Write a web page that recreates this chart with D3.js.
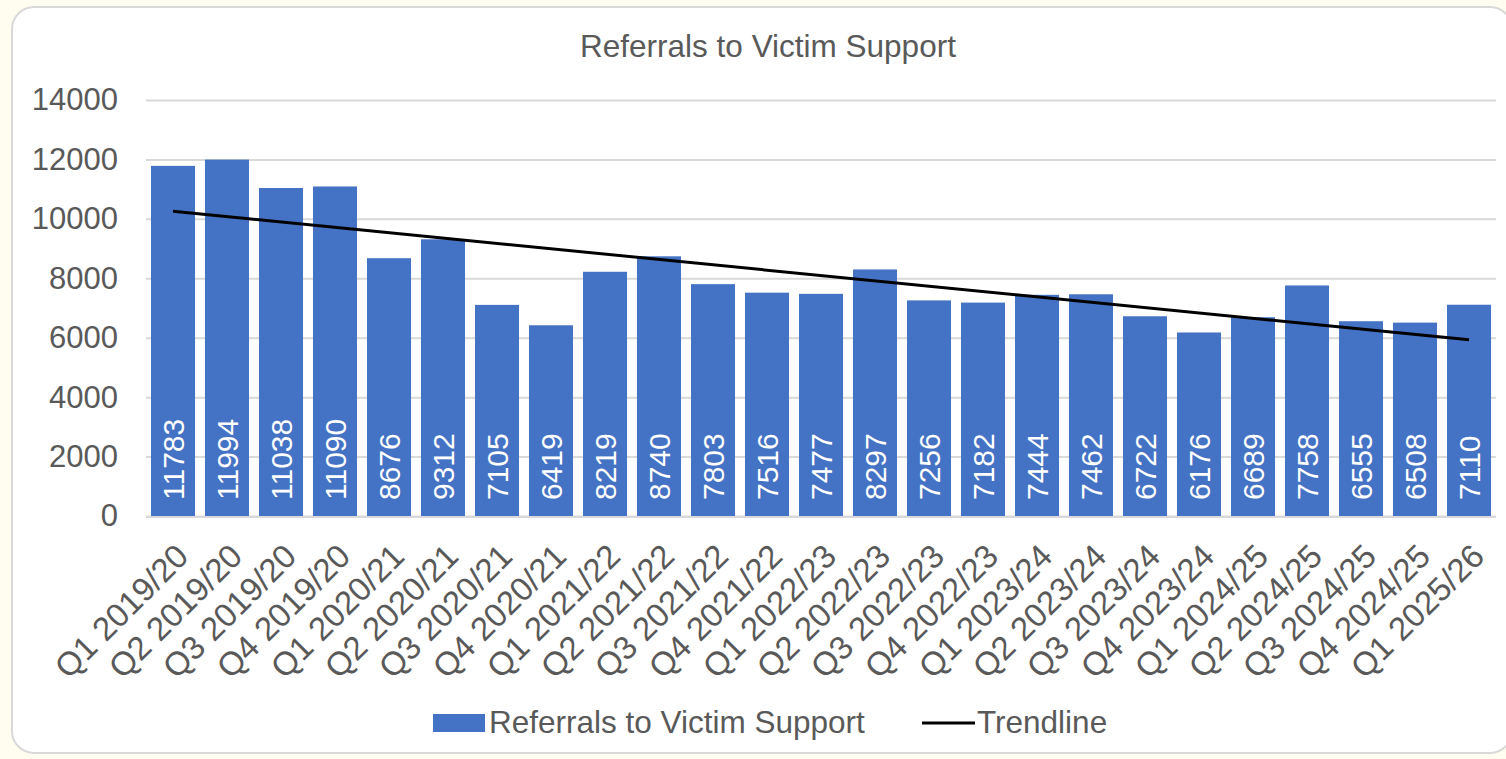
<!DOCTYPE html>
<html>
<head>
<meta charset="utf-8">
<script src="https://cdn.jsdelivr.net/npm/d3@7"></script>
<style>
    body { margin: 0; background: #fffdf0; }
    svg { display: block; font-family: "Liberation Sans", Arial, sans-serif; }
</style>
</head>
<body>
<script>
// quarters shown on the x axis
var quarters = [
    "Q1 2019/20", "Q2 2019/20", "Q3 2019/20", "Q4 2019/20",
    "Q1 2020/21", "Q2 2020/21", "Q3 2020/21", "Q4 2020/21",
    "Q1 2021/22", "Q2 2021/22", "Q3 2021/22", "Q4 2021/22",
    "Q1 2022/23", "Q2 2022/23", "Q3 2022/23", "Q4 2022/23",
    "Q1 2023/24", "Q2 2023/24", "Q3 2023/24", "Q4 2023/24",
    "Q1 2024/25", "Q2 2024/25", "Q3 2024/25", "Q4 2024/25",
    "Q1 2025/26"
];
var referrals = [
    11783, 11994, 11038, 11090, 8676, 9312, 7105, 6419, 8219, 8740,
    7803, 7516, 7477, 8297, 7256, 7182, 7444, 7462, 6722, 6176,
    6689, 7758, 6555, 6508, 7110
];
var yTicks = [0, 2000, 4000, 6000, 8000, 10000, 12000, 14000];

var W = 1506, H = 759;
var plotL = 146, plotR = 1496, plotT = 100, plotB = 516;
var barColor = "#4472c4", textColor = "#595959";

var svg = d3.select("body").append("svg")
    .attr("width", W)
    .attr("height", H);

// chart frame
svg.append("rect")
    .attr("x", 12).attr("y", 7)
    .attr("width", 1500).attr("height", 746)
    .attr("rx", 22)
    .attr("fill", "#ffffff")
    .attr("stroke", "#d9d9d9")
    .attr("stroke-width", 2);

var x = d3.scaleBand()
    .domain(quarters)
    .range([plotL, plotR])
    .paddingInner(0.185)
    .paddingOuter(0.0925);

var y = d3.scaleLinear()
    .domain([0, 14000])
    .range([plotB, plotT]);

svg.append("text")
    .attr("x", 768).attr("y", 57)
    .attr("text-anchor", "middle")
    .attr("font-size", 31.5)
    .attr("fill", textColor)
    .text("Referrals to Victim Support");

// gridlines + y labels
var yAxis = svg.append("g")
    .attr("transform", "translate(" + plotL + ",0)")
    .call(d3.axisLeft(y).tickValues(yTicks).tickSize(-(plotR - plotL))
        .tickPadding(28).tickFormat(d3.format("d")));
yAxis.select(".domain").remove();
yAxis.selectAll(".tick line").attr("stroke", "#d9d9d9").attr("stroke-width", 2);
yAxis.selectAll(".tick text")
    .attr("font-size", 31)
    .attr("fill", textColor)
    .attr("font-family", "Liberation Sans, Arial, sans-serif");

// bars
svg.selectAll("rect.bar")
    .data(referrals)
    .enter().append("rect")
    .attr("class", "bar")
    .attr("x", function(d, i) { return x(quarters[i]); })
    .attr("y", function(d) { return y(d); })
    .attr("width", x.bandwidth())
    .attr("height", function(d) { return y(0) - y(d); })
    .attr("fill", barColor);

// value labels inside bars
svg.selectAll("text.val")
    .data(referrals)
    .enter().append("text")
    .attr("class", "val")
    .attr("transform", function(d, i) {
        var cx = x(quarters[i]) + x.bandwidth() / 2;
        return "translate(" + cx + "," + (plotB - 16) + ") rotate(-90)";
    })
    .attr("dy", "0.36em")
    .attr("font-size", 30)
    .attr("fill", "#ffffff")
    .text(function(d) { return d; });

// x axis line
svg.append("line")
    .attr("x1", plotL).attr("x2", plotR)
    .attr("y1", plotB + 1).attr("y2", plotB + 1)
    .attr("stroke", "#d9d9d9").attr("stroke-width", 2);

// x labels
svg.selectAll("text.cat")
    .data(quarters)
    .enter().append("text")
    .attr("class", "cat")
    .attr("transform", function(d) {
        var cx = x(d) + x.bandwidth() / 2 + 1;
        return "translate(" + cx + ",542) rotate(-45)";
    })
    .attr("text-anchor", "end")
    .attr("dy", "0.7em")
    .attr("font-size", 33)
    .attr("fill", textColor)
    .text(function(d) { return d; });

// linear trendline (least squares, as Excel draws it)
var n = referrals.length;
var idx = d3.range(1, n + 1);
var mx = d3.mean(idx), my = d3.mean(referrals);
var slope = d3.sum(idx, function(t, i) { return (t - mx) * (referrals[i] - my); }) /
    d3.sum(idx, function(t) { return (t - mx) * (t - mx); });
var icept = my - slope * mx;
var trend = [1, n].map(function(t) { return [t, icept + slope * t]; });

svg.append("path")
    .datum(trend)
    .attr("fill", "none")
    .attr("stroke", "#000000")
    .attr("stroke-width", 3)
    .attr("d", d3.line()
        .x(function(p) { return x(quarters[p[0] - 1]) + x.bandwidth() / 2; })
        .y(function(p) { return y(p[1]); }));

// legend
var lg = svg.append("g");
lg.append("rect")
    .attr("x", 433).attr("y", 714)
    .attr("width", 52).attr("height", 18)
    .attr("fill", barColor);
lg.append("text")
    .attr("x", 489).attr("y", 733)
    .attr("font-size", 31.5).attr("fill", textColor)
    .text("Referrals to Victim Support");
lg.append("line")
    .attr("x1", 922).attr("x2", 975)
    .attr("y1", 723).attr("y2", 723)
    .attr("stroke", "#000").attr("stroke-width", 3);
lg.append("text")
    .attr("x", 977).attr("y", 733)
    .attr("font-size", 31.5).attr("fill", textColor)
    .text("Trendline");
</script>
</body>
</html>
